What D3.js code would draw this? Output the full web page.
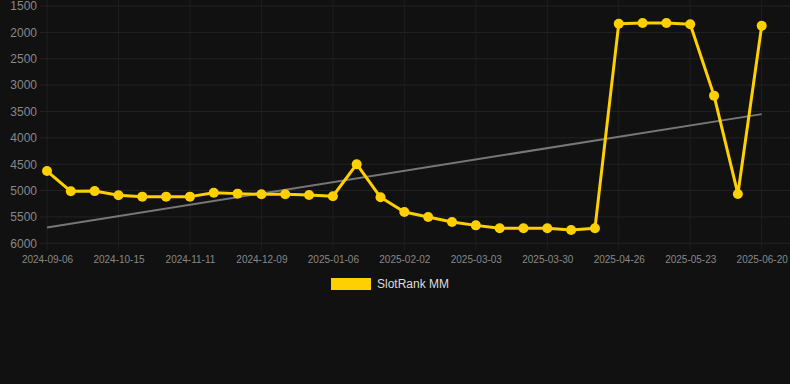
<!DOCTYPE html>
<html><head><meta charset="utf-8">
<script src="https://cdn.jsdelivr.net/npm/d3@7"></script>
<style>
html,body{margin:0;padding:0;background:#111111;}
svg{display:block;}
text{font-family:"Liberation Sans",Arial,Helvetica,sans-serif;}
</style></head>
<body>
<svg id="c" width="790" height="384"></svg>
<script>
const dates = ["2024-09-06","2024-09-19","2024-10-02","2024-10-15","2024-10-24","2024-11-02","2024-11-11","2024-11-20","2024-11-30","2024-12-09","2024-12-18","2024-12-28","2025-01-06","2025-01-15","2025-01-24","2025-02-02","2025-02-12","2025-02-21","2025-03-03","2025-03-12","2025-03-21","2025-03-30","2025-04-08","2025-04-17","2025-04-26","2025-05-05","2025-05-14","2025-05-23","2025-06-01","2025-06-11","2025-06-20"];
const ranks = [4630,5014,5010,5090,5115,5115,5115,5040,5058,5071,5070,5083,5108,4500,5127,5406,5500,5595,5660,5716,5716,5716,5747,5716,1835,1822,1822,1847,3200,5064,1873];
const yTicks = [1500,2000,2500,3000,3500,4000,4500,5000,5500,6000];
const seriesName = "SlotRank MM";

const svg = d3.select("#c");
const x = d3.scalePoint().domain(dates).range([47, 761.7]);
const y = d3.scaleLinear().domain([1500, 6000]).range([6, 243.3]);
const lineColor = "#FFD000";

// grid
const labeled = dates.filter((d,i)=> i % 3 === 0);
svg.append("g").selectAll("line").data(yTicks).join("line")
  .attr("x1", 40).attr("x2", 790)
  .attr("y1", d=>y(d)).attr("y2", d=>y(d))
  .attr("stroke", "#232323").attr("stroke-width", 1);
svg.append("g").selectAll("line").data(labeled).join("line")
  .attr("x1", d=>x(d)).attr("x2", d=>x(d))
  .attr("y1", 0).attr("y2", 250)
  .attr("stroke", "#1e1e1e").attr("stroke-width", 1);

// axes
const yAxis = d3.axisLeft(y).tickValues(yTicks).tickSize(0).tickPadding(0).tickFormat(d3.format("d"));
const gy = svg.append("g").attr("transform","translate(37,0)").call(yAxis);
gy.select(".domain").remove();
gy.selectAll("text").attr("fill","#888").attr("font-size","12px");

const xAxis = d3.axisBottom(x).tickValues(labeled).tickSize(0).tickPadding(0);
const gx = svg.append("g").attr("transform","translate(0,255.5)").call(xAxis);
gx.select(".domain").remove();
gx.selectAll("text").attr("fill","#888").attr("font-size","10px");

// trend line (least squares)
const n = ranks.length;
const idx = d3.range(n);
const mx = d3.mean(idx), my = d3.mean(ranks);
const slope = d3.sum(idx, i => (i-mx)*(ranks[i]-my)) / d3.sum(idx, i => (i-mx)*(i-mx));
const icpt = my - slope*mx;
svg.append("line")
  .attr("x1", x(dates[0])).attr("y1", y(icpt))
  .attr("x2", x(dates[n-1])).attr("y2", y(icpt + slope*(n-1)))
  .attr("stroke","#777").attr("stroke-width",2);

// series
const line = d3.line().x((d,i)=>x(dates[i])).y(d=>y(d));
svg.append("path").datum(ranks).attr("d", line)
  .attr("fill","none").attr("stroke", lineColor).attr("stroke-width",3).attr("stroke-linejoin","round");
svg.append("g").selectAll("circle").data(ranks).join("circle")
  .attr("cx",(d,i)=>x(dates[i])).attr("cy", d=>y(d)).attr("r",5)
  .attr("fill", lineColor);

// legend
const lg = svg.append("g");
lg.append("rect").attr("x",331).attr("y",278).attr("width",40).attr("height",12).attr("fill", lineColor);
lg.append("text").attr("x",377).attr("y",284).attr("dy","0.35em").attr("fill","#ddd").attr("font-size","12px").text(seriesName);
</script>
</body></html>
